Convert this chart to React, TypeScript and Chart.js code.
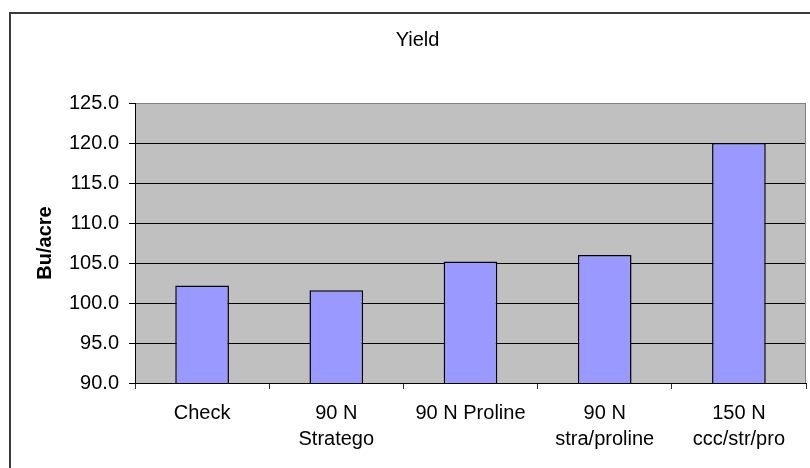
import React, { useEffect, useRef } from "react";
import { Chart, registerables } from "chart.js";

Chart.register(...registerables);

const categories: (string | string[])[] = [
  "Check",
  ["90 N", "Stratego"],
  "90 N Proline",
  ["90 N", "stra/proline"],
  ["150 N", "ccc/str/pro"],
];
const yieldValues = [102.2, 101.6, 105.2, 106.0, 120.0];
const chartTitle = "Yield";
const yAxisTitle = "Bu/acre";
const yMin = 90;
const yMax = 125;
const yStep = 5;

const FONT = '"Liberation Sans", Arial, sans-serif';

const framePlugin = {
  id: "framePlugin",
  beforeDraw(chart: any) {
    const { ctx, chartArea } = chart;
    ctx.save();
    ctx.fillStyle = "#ffffff";
    ctx.fillRect(0, 0, chart.width, chart.height);
    // outer frame
    ctx.strokeStyle = "#3a3a3a";
    ctx.lineWidth = 2;
    ctx.strokeRect(10, 13, 900, 600);
    // plot background
    ctx.fillStyle = "#C0C0C0";
    ctx.fillRect(
      chartArea.left,
      chartArea.top,
      chartArea.right - chartArea.left,
      chartArea.bottom - chartArea.top
    );
    ctx.restore();
  },
  beforeDatasetsDraw(chart: any) {
    const { ctx, chartArea } = chart;
    ctx.save();
    ctx.strokeStyle = "#808080";
    ctx.lineWidth = 1;
    ctx.beginPath();
    ctx.moveTo(Math.round(chartArea.right) - 0.5, chartArea.top);
    ctx.lineTo(Math.round(chartArea.right) - 0.5, chartArea.bottom);
    ctx.stroke();
    ctx.restore();
  },
  afterDraw(chart: any) {
    const { ctx } = chart;
    ctx.save();
    ctx.fillStyle = "#000";
    ctx.font = `20px ${FONT}`;
    ctx.textAlign = "center";
    ctx.textBaseline = "middle";
    ctx.fillText(chartTitle, 417.5, 40);
    ctx.restore();
  },
};

export default function App() {
  const canvasRef = useRef<HTMLCanvasElement | null>(null);

  useEffect(() => {
    if (!canvasRef.current) return;
    const chart = new Chart(canvasRef.current, {
      type: "bar",
      data: {
        labels: categories,
        datasets: [
          {
            data: yieldValues,
            backgroundColor: "#9999FF",
            borderColor: "#000000",
            borderWidth: 1.5,
            barPercentage: 0.4,
            categoryPercentage: 1.0,
          },
        ],
      },
      options: {
        responsive: false,
        animation: false,
        layout: { padding: { top: 103, right: 4, left: 0, bottom: 0 } },
        plugins: {
          legend: { display: false },
          title: { display: false },
          tooltip: { enabled: false },
        },
        scales: {
          x: {
            offset: true,
            afterFit: (scale: any) => {
              scale.height = 85;
            },
            grid: {
              offset: true,
              drawOnChartArea: false,
              drawTicks: true,
              tickLength: 6,
              tickColor: "#303030",
            },
            border: { display: true, color: "#000000", width: 1 },
            ticks: {
              color: "#000",
              font: { family: FONT, size: 20, lineHeight: 1.3 },
              padding: 11,
              maxRotation: 0,
              autoSkip: false,
            },
          },
          y: {
            min: yMin,
            max: yMax,
            afterFit: (scale: any) => {
              scale.width = 135;
            },
            title: {
              display: true,
              text: yAxisTitle,
              color: "#000",
              font: { family: FONT, size: 20, weight: "bold", lineHeight: 1.2 },
              padding: { top: 33, bottom: 0 },
            },
            grid: {
              color: (ctx: any) =>
                ctx.tick && ctx.tick.value === yMax ? "#808080" : "#000000",
              tickColor: "#000000",
              tickLength: 6,
              lineWidth: 1,
            },
            border: { display: true, color: "#000000", width: 1 },
            ticks: {
              stepSize: yStep,
              color: "#000",
              font: { family: FONT, size: 20 },
              padding: 10,
              callback: (v: any) => Number(v).toFixed(1),
            },
          },
        },
      },
      plugins: [framePlugin],
    });
    return () => chart.destroy();
  }, []);

  return (
    <div style={{ position: "fixed", left: 0, top: 0, width: 810, height: 468 }}>
      <canvas ref={canvasRef} width={810} height={468} />
    </div>
  );
}
